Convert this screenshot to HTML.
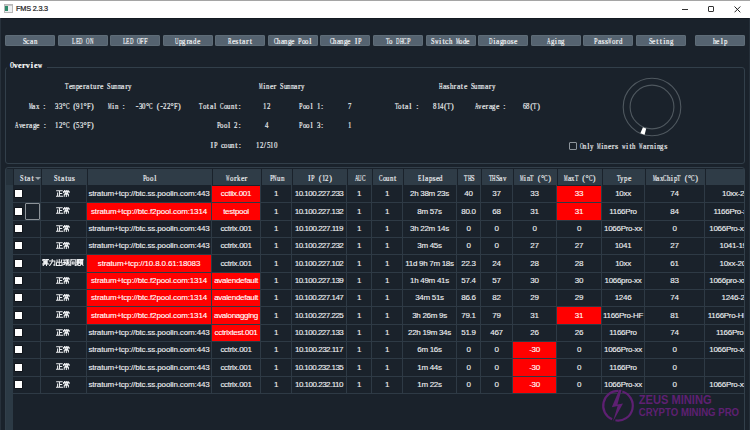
<!DOCTYPE html>
<html><head><meta charset="utf-8"><title>FMS 2.3.3</title>
<style>
*{margin:0;padding:0;box-sizing:border-box}
html,body{width:750px;height:430px;overflow:hidden;background:#1a222b;position:relative}
.a{position:absolute}
.m{-webkit-text-stroke:0.18px currentColor}.m i{font-style:normal;display:inline-flex;justify-content:center;width:3.52px}
.sf{position:absolute;font-family:"Liberation Serif",serif;font-size:8.0px;line-height:8px;color:#eceef0;white-space:nowrap}
.ss{font-family:"Liberation Sans",sans-serif;white-space:nowrap}
.btn{position:absolute;top:35px;height:11px;width:50px;background:#556370;border-radius:2px;box-shadow:inset 0 0 0 0.5px #68767f;
 font-family:"Liberation Serif",serif;font-size:8.0px;line-height:13px;text-align:center;color:#f4f5f6;white-space:nowrap}
.c{position:absolute;font-family:"Liberation Sans",sans-serif;font-size:8px;-webkit-text-stroke:0.12px currentColor;color:#eef0f2;text-align:center;white-space:nowrap;overflow:hidden}
.h{position:absolute;top:0;height:16px;background:#2f3c47;font-family:"Liberation Serif",serif;font-size:8.0px;line-height:19px;color:#eceef0;text-align:center;white-space:nowrap}
.r{background:#ff0000;color:#fff}
.cb{position:absolute;width:7px;height:7px;background:#fff;box-shadow:0 0 0 0.6px #0a0d10}
</style></head><body>

<div class="a" style="left:0;top:0;width:750px;height:18px;background:#fff;border-top:1px solid #a5a5a5"></div>
<div class="a" style="left:4px;top:4px;width:9px;height:8.5px;border:1px solid #b8b8b8;background:#eef0f2"></div>
<div class="a" style="left:5px;top:6px;width:3px;height:5px;background:#2e8a6a"></div>
<div class="a" style="left:5px;top:5px;width:7px;height:1px;background:#c8c8c8"></div>
<div class="a ss" style="left:16.1px;top:4.6px;font-size:7.3px;line-height:8px;color:#1a1a1a;letter-spacing:-0.2px;-webkit-text-stroke:0.2px #1a1a1a">FMS 2.3.3</div>
<div class="a" style="left:682px;top:9px;width:6px;height:1px;background:#333"></div>
<div class="a" style="left:707.5px;top:6px;width:6px;height:5.5px;border:1px solid #333;border-radius:1px"></div>
<svg class="a" style="left:734px;top:5.5px" width="7" height="7" viewBox="0 0 7 7"><path d="M0.5 0.5L6.3 6.3M6.3 0.5L0.5 6.3" stroke="#222" stroke-width="1"/></svg>
<div class="a" style="left:0;top:18px;width:750px;height:1px;background:#131a21"></div>
<div class="a" style="left:0;top:18px;width:1px;height:412px;background:#27313b"></div>
<div class="a" style="left:749px;top:18px;width:1px;height:412px;background:#252f39"></div>
<div class="btn m" style="left:5.00px"><i style="transform:scaleX(.80)">S</i><i style="transform:scaleX(.95)">c</i><i style="transform:scaleX(.95)">a</i><i style="transform:scaleX(.85)">n</i></div>
<div class="btn m" style="left:57.58px"><i style="transform:scaleX(.70)">L</i><i style="transform:scaleX(.70)">E</i><i style="transform:scaleX(.60)">D</i><i> </i><i style="transform:scaleX(.60)">O</i><i style="transform:scaleX(.60)">N</i></div>
<div class="btn m" style="left:110.16px"><i style="transform:scaleX(.70)">L</i><i style="transform:scaleX(.70)">E</i><i style="transform:scaleX(.60)">D</i><i> </i><i style="transform:scaleX(.60)">O</i><i style="transform:scaleX(.80)">F</i><i style="transform:scaleX(.80)">F</i></div>
<div class="btn m" style="left:162.74px"><i style="transform:scaleX(.60)">U</i><i style="transform:scaleX(.85)">p</i><i style="transform:scaleX(.85)">g</i><i>r</i><i style="transform:scaleX(.95)">a</i><i style="transform:scaleX(.85)">d</i><i style="transform:scaleX(.95)">e</i></div>
<div class="btn m" style="left:215.32px"><i style="transform:scaleX(.65)">R</i><i style="transform:scaleX(.95)">e</i><i>s</i><i>t</i><i style="transform:scaleX(.95)">a</i><i>r</i><i>t</i></div>
<div class="btn m" style="left:267.90px"><i style="transform:scaleX(.65)">C</i><i style="transform:scaleX(.85)">h</i><i style="transform:scaleX(.95)">a</i><i style="transform:scaleX(.85)">n</i><i style="transform:scaleX(.85)">g</i><i style="transform:scaleX(.95)">e</i><i> </i><i style="transform:scaleX(.80)">P</i><i style="transform:scaleX(.85)">o</i><i style="transform:scaleX(.85)">o</i><i>l</i></div>
<div class="btn m" style="left:320.48px"><i style="transform:scaleX(.65)">C</i><i style="transform:scaleX(.85)">h</i><i style="transform:scaleX(.95)">a</i><i style="transform:scaleX(.85)">n</i><i style="transform:scaleX(.85)">g</i><i style="transform:scaleX(.95)">e</i><i> </i><i>I</i><i style="transform:scaleX(.80)">P</i></div>
<div class="btn m" style="left:373.06px"><i style="transform:scaleX(.70)">T</i><i style="transform:scaleX(.85)">o</i><i> </i><i style="transform:scaleX(.60)">D</i><i style="transform:scaleX(.60)">H</i><i style="transform:scaleX(.65)">C</i><i style="transform:scaleX(.80)">P</i></div>
<div class="btn m" style="left:425.64px"><i style="transform:scaleX(.80)">S</i><i style="transform:scaleX(.60)">w</i><i>i</i><i>t</i><i style="transform:scaleX(.95)">c</i><i style="transform:scaleX(.85)">h</i><i> </i><i style="transform:scaleX(.50)">M</i><i style="transform:scaleX(.85)">o</i><i style="transform:scaleX(.85)">d</i><i style="transform:scaleX(.95)">e</i></div>
<div class="btn m" style="left:478.22px"><i style="transform:scaleX(.60)">D</i><i>i</i><i style="transform:scaleX(.95)">a</i><i style="transform:scaleX(.85)">g</i><i style="transform:scaleX(.85)">n</i><i style="transform:scaleX(.85)">o</i><i>s</i><i style="transform:scaleX(.95)">e</i></div>
<div class="btn m" style="left:530.80px"><i style="transform:scaleX(.60)">A</i><i style="transform:scaleX(.85)">g</i><i>i</i><i style="transform:scaleX(.85)">n</i><i style="transform:scaleX(.85)">g</i></div>
<div class="btn m" style="left:583.38px"><i style="transform:scaleX(.80)">P</i><i style="transform:scaleX(.95)">a</i><i>s</i><i>s</i><i style="transform:scaleX(.45)">W</i><i style="transform:scaleX(.85)">o</i><i>r</i><i style="transform:scaleX(.85)">d</i></div>
<div class="btn m" style="left:635.96px"><i style="transform:scaleX(.80)">S</i><i style="transform:scaleX(.95)">e</i><i>t</i><i>t</i><i>i</i><i style="transform:scaleX(.85)">n</i><i style="transform:scaleX(.85)">g</i></div>
<div class="btn m" style="left:695px"><i style="transform:scaleX(.85)">h</i><i style="transform:scaleX(.95)">e</i><i>l</i><i style="transform:scaleX(.85)">p</i></div>
<div class="a" style="left:5px;top:67px;width:740px;height:97px;border:1px solid #323f4a;border-radius:3px"></div>
<div class="a" style="left:7px;top:62px;width:40px;height:8px;background:#1a222b"></div>
<div class="sf m" style="left:9.6px;top:62.2px;font-weight:bold;color:#fff"><i style="width:4.05px;transform:scaleX(.65)">O</i><i style="width:4.05px;transform:scaleX(1.00)">v</i><i style="width:4.05px">e</i><i style="width:4.05px">r</i><i style="width:4.05px;transform:scaleX(1.00)">v</i><i style="width:4.05px">i</i><i style="width:4.05px">e</i><i style="width:4.05px;transform:scaleX(.70)">w</i></div>
<div class="sf m" style="left:65.0px;top:82.8px;"><i style="transform:scaleX(.70)">T</i><i style="transform:scaleX(.95)">e</i><i style="transform:scaleX(.55)">m</i><i style="transform:scaleX(.85)">p</i><i style="transform:scaleX(.95)">e</i><i>r</i><i style="transform:scaleX(.95)">a</i><i>t</i><i style="transform:scaleX(.85)">u</i><i>r</i><i style="transform:scaleX(.95)">e</i><i> </i><i style="transform:scaleX(.80)">S</i><i style="transform:scaleX(.85)">u</i><i style="transform:scaleX(.55)">m</i><i style="transform:scaleX(.55)">m</i><i style="transform:scaleX(.95)">a</i><i>r</i><i style="transform:scaleX(.85)">y</i></div>
<div class="sf m" style="left:28.5px;top:102.5px;"><i style="transform:scaleX(.50)">M</i><i style="transform:scaleX(.95)">a</i><i style="transform:scaleX(.85)">x</i><i> </i><i>:</i></div>
<div class="sf m" style="left:55.3px;top:102.5px;"><i style="transform:scaleX(.85)">3</i><i style="transform:scaleX(.85)">3</i><i>°</i><i style="transform:scaleX(.65)">C</i><i> </i><i>(</i><i style="transform:scaleX(.85)">9</i><i style="transform:scaleX(.85)">1</i><i>°</i><i style="transform:scaleX(.80)">F</i><i>)</i></div>
<div class="sf m" style="left:107.8px;top:102.5px;"><i style="transform:scaleX(.50)">M</i><i>i</i><i style="transform:scaleX(.85)">n</i><i> </i><i>:</i></div>
<div class="sf m" style="left:135.3px;top:102.5px;"><i>-</i><i style="transform:scaleX(.85)">3</i><i style="transform:scaleX(.85)">0</i><i>°</i><i style="transform:scaleX(.65)">C</i><i> </i><i>(</i><i>-</i><i style="transform:scaleX(.85)">2</i><i style="transform:scaleX(.85)">2</i><i>°</i><i style="transform:scaleX(.80)">F</i><i>)</i></div>
<div class="sf m" style="left:15.0px;top:122.4px;"><i style="transform:scaleX(.60)">A</i><i style="transform:scaleX(.85)">v</i><i style="transform:scaleX(.95)">e</i><i>r</i><i style="transform:scaleX(.95)">a</i><i style="transform:scaleX(.85)">g</i><i style="transform:scaleX(.95)">e</i><i> </i><i>:</i></div>
<div class="sf m" style="left:55.3px;top:122.4px;"><i style="transform:scaleX(.85)">1</i><i style="transform:scaleX(.85)">2</i><i>°</i><i style="transform:scaleX(.65)">C</i><i> </i><i>(</i><i style="transform:scaleX(.85)">5</i><i style="transform:scaleX(.85)">3</i><i>°</i><i style="transform:scaleX(.80)">F</i><i>)</i></div>
<div class="sf m" style="left:259.0px;top:82.8px;"><i style="transform:scaleX(.50)">M</i><i>i</i><i style="transform:scaleX(.85)">n</i><i style="transform:scaleX(.95)">e</i><i>r</i><i> </i><i style="transform:scaleX(.80)">S</i><i style="transform:scaleX(.85)">u</i><i style="transform:scaleX(.55)">m</i><i style="transform:scaleX(.55)">m</i><i style="transform:scaleX(.95)">a</i><i>r</i><i style="transform:scaleX(.85)">y</i></div>
<div class="sf m" style="left:199.2px;top:102.5px;"><i style="transform:scaleX(.70)">T</i><i style="transform:scaleX(.85)">o</i><i>t</i><i style="transform:scaleX(.95)">a</i><i>l</i><i> </i><i style="transform:scaleX(.65)">C</i><i style="transform:scaleX(.85)">o</i><i style="transform:scaleX(.85)">u</i><i style="transform:scaleX(.85)">n</i><i>t</i><i>:</i></div>
<div class="sf m" style="left:263.4px;top:102.5px;"><i style="transform:scaleX(.85)">1</i><i style="transform:scaleX(.85)">2</i></div>
<div class="sf m" style="left:299.2px;top:102.5px;"><i style="transform:scaleX(.80)">P</i><i style="transform:scaleX(.85)">o</i><i style="transform:scaleX(.85)">o</i><i>l</i><i> </i><i style="transform:scaleX(.85)">1</i><i>:</i></div>
<div class="sf m" style="left:347.5px;top:102.5px;"><i style="transform:scaleX(.85)">7</i></div>
<div class="sf m" style="left:216.7px;top:122.4px;"><i style="transform:scaleX(.80)">P</i><i style="transform:scaleX(.85)">o</i><i style="transform:scaleX(.85)">o</i><i>l</i><i> </i><i style="transform:scaleX(.85)">2</i><i>:</i></div>
<div class="sf m" style="left:264.8px;top:122.4px;"><i style="transform:scaleX(.85)">4</i></div>
<div class="sf m" style="left:299.2px;top:122.4px;"><i style="transform:scaleX(.80)">P</i><i style="transform:scaleX(.85)">o</i><i style="transform:scaleX(.85)">o</i><i>l</i><i> </i><i style="transform:scaleX(.85)">3</i><i>:</i></div>
<div class="sf m" style="left:347.5px;top:122.4px;"><i style="transform:scaleX(.85)">1</i></div>
<div class="sf m" style="left:210.0px;top:141.6px;"><i>I</i><i style="transform:scaleX(.80)">P</i><i> </i><i style="transform:scaleX(.95)">c</i><i style="transform:scaleX(.85)">o</i><i style="transform:scaleX(.85)">u</i><i style="transform:scaleX(.85)">n</i><i>t</i><i>:</i></div>
<div class="sf m" style="left:256.1px;top:141.6px;"><i style="transform:scaleX(.85)">1</i><i style="transform:scaleX(.85)">2</i><i>/</i><i style="transform:scaleX(.85)">5</i><i style="transform:scaleX(.85)">1</i><i style="transform:scaleX(.85)">0</i></div>
<div class="sf m" style="left:439.0px;top:82.8px;"><i style="transform:scaleX(.60)">H</i><i style="transform:scaleX(.95)">a</i><i>s</i><i style="transform:scaleX(.85)">h</i><i>r</i><i style="transform:scaleX(.95)">a</i><i>t</i><i style="transform:scaleX(.95)">e</i><i> </i><i style="transform:scaleX(.80)">S</i><i style="transform:scaleX(.85)">u</i><i style="transform:scaleX(.55)">m</i><i style="transform:scaleX(.55)">m</i><i style="transform:scaleX(.95)">a</i><i>r</i><i style="transform:scaleX(.85)">y</i></div>
<div class="sf m" style="left:394.6px;top:102.5px;"><i style="transform:scaleX(.70)">T</i><i style="transform:scaleX(.85)">o</i><i>t</i><i style="transform:scaleX(.95)">a</i><i>l</i><i> </i><i>:</i></div>
<div class="sf m" style="left:433.1px;top:102.5px;"><i style="transform:scaleX(.85)">8</i><i style="transform:scaleX(.85)">1</i><i style="transform:scaleX(.85)">4</i><i>(</i><i style="transform:scaleX(.70)">T</i><i>)</i></div>
<div class="sf m" style="left:474.5px;top:102.5px;"><i style="transform:scaleX(.60)">A</i><i style="transform:scaleX(.85)">v</i><i style="transform:scaleX(.95)">e</i><i>r</i><i style="transform:scaleX(.95)">a</i><i style="transform:scaleX(.85)">g</i><i style="transform:scaleX(.95)">e</i><i> </i><i>:</i></div>
<div class="sf m" style="left:522.8px;top:102.5px;"><i style="transform:scaleX(.85)">6</i><i style="transform:scaleX(.85)">8</i><i>(</i><i style="transform:scaleX(.70)">T</i><i>)</i></div>
<div class="a" style="left:569px;top:142.4px;width:8px;height:8px;border:1px solid #8d959c;border-radius:1px"></div>
<div class="sf m" style="left:579.6px;top:143.4px;"><i style="transform:scaleX(.60)">O</i><i style="transform:scaleX(.85)">n</i><i>l</i><i style="transform:scaleX(.85)">y</i><i> </i><i style="transform:scaleX(.50)">M</i><i>i</i><i style="transform:scaleX(.85)">n</i><i style="transform:scaleX(.95)">e</i><i>r</i><i>s</i><i> </i><i style="transform:scaleX(.60)">w</i><i>i</i><i>t</i><i style="transform:scaleX(.85)">h</i><i> </i><i style="transform:scaleX(.45)">W</i><i style="transform:scaleX(.95)">a</i><i>r</i><i style="transform:scaleX(.85)">n</i><i>i</i><i style="transform:scaleX(.85)">n</i><i style="transform:scaleX(.85)">g</i><i>s</i></div>
<svg class="a" style="left:620px;top:75px" width="64" height="64" viewBox="0 0 64 64">
<circle cx="32" cy="32" r="28.8" fill="none" stroke="#4f585f" stroke-width="1.1"/>
<circle cx="32" cy="32" r="21.9" fill="none" stroke="#4f585f" stroke-width="1.1"/>
<path d="M26.23 53.54L24.60 59.63A28.6 28.6 0 0 1 20.37 58.13L22.93 52.37A22.3 22.3 0 0 0 26.23 53.54Z" fill="#fff"/>
</svg>
<div class="a" style="left:4.5px;top:167px;width:740.5px;height:270px;border:1px solid #323f4a;border-radius:3px"></div>
<div class="a" style="left:5.5px;top:169px;width:7.5px;height:262px;background:#2c3a45"></div>
<div class="a" style="left:5.5px;top:169px;width:7.5px;height:16px;background:#26323c"></div>
<div class="a" style="left:13px;top:169px;width:730.5px;height:16px;overflow:hidden">
<div class="h m" style="left:1.0px;width:27.0px;text-align:left;padding-left:6.3px"><i style="transform:scaleX(.80)">S</i><i>t</i><i style="transform:scaleX(.95)">a</i><i>t</i><span style="display:inline-block;margin-left:1px;width:0;height:0;border-left:3px solid transparent;border-right:3px solid transparent;border-top:3px solid #9aa3aa;vertical-align:1.5px"></span></div>
<div class="h m" style="left:29.0px;width:45.0px"><i style="transform:scaleX(.80)">S</i><i>t</i><i style="transform:scaleX(.95)">a</i><i>t</i><i style="transform:scaleX(.85)">u</i><i>s</i></div>
<div class="h m" style="left:75.0px;width:124.0px"><i style="transform:scaleX(.80)">P</i><i style="transform:scaleX(.85)">o</i><i style="transform:scaleX(.85)">o</i><i>l</i></div>
<div class="h m" style="left:200.0px;width:48.0px"><i style="transform:scaleX(.45)">W</i><i style="transform:scaleX(.85)">o</i><i>r</i><i style="transform:scaleX(.85)">k</i><i style="transform:scaleX(.95)">e</i><i>r</i></div>
<div class="h m" style="left:249.0px;width:30.0px"><i style="transform:scaleX(.80)">P</i><i style="transform:scaleX(.60)">N</i><i style="transform:scaleX(.85)">u</i><i style="transform:scaleX(.55)">m</i></div>
<div class="h m" style="left:280.0px;width:54.0px"><i>I</i><i style="transform:scaleX(.80)">P</i><i> </i><i>(</i><i style="transform:scaleX(.85)">1</i><i style="transform:scaleX(.85)">2</i><i>)</i></div>
<div class="h m" style="left:335.0px;width:24.0px"><i style="transform:scaleX(.60)">A</i><i style="transform:scaleX(.60)">U</i><i style="transform:scaleX(.65)">C</i></div>
<div class="h m" style="left:360.0px;width:30.0px"><i style="transform:scaleX(.65)">C</i><i style="transform:scaleX(.85)">o</i><i style="transform:scaleX(.85)">u</i><i style="transform:scaleX(.85)">n</i><i>t</i></div>
<div class="h m" style="left:391.0px;width:53.0px"><i style="transform:scaleX(.70)">E</i><i>l</i><i style="transform:scaleX(.95)">a</i><i style="transform:scaleX(.85)">p</i><i>s</i><i style="transform:scaleX(.95)">e</i><i style="transform:scaleX(.85)">d</i></div>
<div class="h m" style="left:445.0px;width:23.0px"><i style="transform:scaleX(.70)">T</i><i style="transform:scaleX(.60)">H</i><i style="transform:scaleX(.80)">S</i></div>
<div class="h m" style="left:469.0px;width:31.0px"><i style="transform:scaleX(.70)">T</i><i style="transform:scaleX(.60)">H</i><i style="transform:scaleX(.80)">S</i><i style="transform:scaleX(.95)">a</i><i style="transform:scaleX(.85)">v</i></div>
<div class="h m" style="left:501.0px;width:43.0px"><i style="transform:scaleX(.50)">M</i><i>i</i><i style="transform:scaleX(.85)">n</i><i style="transform:scaleX(.70)">T</i><i> </i><i>(</i><i>°</i><i style="transform:scaleX(.65)">C</i><i>)</i></div>
<div class="h m" style="left:545.0px;width:44.0px"><i style="transform:scaleX(.50)">M</i><i style="transform:scaleX(.95)">a</i><i style="transform:scaleX(.85)">x</i><i style="transform:scaleX(.70)">T</i><i> </i><i>(</i><i>°</i><i style="transform:scaleX(.65)">C</i><i>)</i></div>
<div class="h m" style="left:590.0px;width:42.0px"><i style="transform:scaleX(.70)">T</i><i style="transform:scaleX(.85)">y</i><i style="transform:scaleX(.85)">p</i><i style="transform:scaleX(.95)">e</i></div>
<div class="h m" style="left:633.0px;width:59.0px"><i style="transform:scaleX(.50)">M</i><i style="transform:scaleX(.95)">a</i><i style="transform:scaleX(.85)">x</i><i style="transform:scaleX(.65)">C</i><i style="transform:scaleX(.85)">h</i><i>i</i><i style="transform:scaleX(.85)">p</i><i style="transform:scaleX(.70)">T</i><i> </i><i>(</i><i>°</i><i style="transform:scaleX(.65)">C</i><i>)</i></div>
<div class="h m" style="left:693.0px;width:85.0px"></div>
</div>
<div class="a" style="left:13px;top:185px;width:731px;height:245px;overflow:hidden">
<div class="c" style="left:28px;top:1px;width:45px;height:16px;line-height:16px;letter-spacing:-0.30px"><svg width="13.80" height="6.90" viewBox="0 0 20.00 10" style="display:block;margin:4.30px auto 0;position:relative;left:-0.60px"><g fill="none" stroke="#eef0f2" stroke-width="1.50" stroke-linecap="square"><path transform="translate(0.00 0)" d="M1 1.2H9M5 1.2V9.2M5 5H8.3M2.3 4.3V9.2M0.4 9.2H9.6"/><path transform="translate(10.00 0)" d="M5 0V1.8M2.4 0.5L3.2 1.6M7.6 0.5L6.8 1.6M1 3.6V2.2H9V3.6M3.2 3.4H6.8V5H3.2ZM2 9V6.2H8V8.8M5 5V10"/></g></svg></div>
<div class="c" style="left:74px;top:1px;width:124px;height:16px;line-height:16px;letter-spacing:-0.14px">stratum+tcp://btc.ss.poolin.com:443</div>
<div class="c r" style="left:199px;top:1px;width:48px;height:16px;line-height:16px;letter-spacing:-0.30px">cctiix.001</div>
<div class="c" style="left:248px;top:1px;width:30px;height:16px;line-height:16px;letter-spacing:-0.30px">1</div>
<div class="c" style="left:279px;top:1px;width:54px;height:16px;line-height:16px;letter-spacing:-0.50px">10.100.227.233</div>
<div class="c" style="left:334px;top:1px;width:24px;height:16px;line-height:16px;letter-spacing:-0.30px">1</div>
<div class="c" style="left:359px;top:1px;width:30px;height:16px;line-height:16px;letter-spacing:-0.30px">1</div>
<div class="c" style="left:390px;top:1px;width:53px;height:16px;line-height:16px;letter-spacing:-0.30px">2h 38m 23s</div>
<div class="c" style="left:444px;top:1px;width:23px;height:16px;line-height:16px;letter-spacing:-0.30px">40</div>
<div class="c" style="left:468px;top:1px;width:31px;height:16px;line-height:16px;letter-spacing:-0.30px">37</div>
<div class="c" style="left:500px;top:1px;width:43px;height:16px;line-height:16px;letter-spacing:-0.30px">33</div>
<div class="c r" style="left:544px;top:1px;width:44px;height:16px;line-height:16px;letter-spacing:-0.30px">33</div>
<div class="c" style="left:589px;top:1px;width:42px;height:16px;line-height:16px;letter-spacing:-0.30px">10xx</div>
<div class="c" style="left:632px;top:1px;width:59px;height:16px;line-height:16px;letter-spacing:-0.30px">74</div>
<div class="c" style="left:692px;top:1px;width:85px;height:16px;line-height:16px;letter-spacing:-0.30px"><span style="position:absolute;left:17.0px">10xx-20xx</span></div>
<div class="a" style="left:0;top:17px;width:731px;height:1px;background:#2e3a45"></div>
<div class="c" style="left:28px;top:18px;width:45px;height:17px;line-height:17px;letter-spacing:-0.30px"><svg width="13.80" height="6.90" viewBox="0 0 20.00 10" style="display:block;margin:4.30px auto 0;position:relative;left:-0.60px"><g fill="none" stroke="#eef0f2" stroke-width="1.50" stroke-linecap="square"><path transform="translate(0.00 0)" d="M1 1.2H9M5 1.2V9.2M5 5H8.3M2.3 4.3V9.2M0.4 9.2H9.6"/><path transform="translate(10.00 0)" d="M5 0V1.8M2.4 0.5L3.2 1.6M7.6 0.5L6.8 1.6M1 3.6V2.2H9V3.6M3.2 3.4H6.8V5H3.2ZM2 9V6.2H8V8.8M5 5V10"/></g></svg></div>
<div class="c r" style="left:74px;top:18px;width:124px;height:17px;line-height:17px;letter-spacing:-0.14px">stratum+tcp://btc.f2pool.com:1314</div>
<div class="c r" style="left:199px;top:18px;width:48px;height:17px;line-height:17px;letter-spacing:-0.30px">testpool</div>
<div class="c" style="left:248px;top:18px;width:30px;height:17px;line-height:17px;letter-spacing:-0.30px">1</div>
<div class="c" style="left:279px;top:18px;width:54px;height:17px;line-height:17px;letter-spacing:-0.50px">10.100.227.132</div>
<div class="c" style="left:334px;top:18px;width:24px;height:17px;line-height:17px;letter-spacing:-0.30px">1</div>
<div class="c" style="left:359px;top:18px;width:30px;height:17px;line-height:17px;letter-spacing:-0.30px">1</div>
<div class="c" style="left:390px;top:18px;width:53px;height:17px;line-height:17px;letter-spacing:-0.30px">8m 57s</div>
<div class="c" style="left:444px;top:18px;width:23px;height:17px;line-height:17px;letter-spacing:-0.30px">80.0</div>
<div class="c" style="left:468px;top:18px;width:31px;height:17px;line-height:17px;letter-spacing:-0.30px">68</div>
<div class="c" style="left:500px;top:18px;width:43px;height:17px;line-height:17px;letter-spacing:-0.30px">31</div>
<div class="c r" style="left:544px;top:18px;width:44px;height:17px;line-height:17px;letter-spacing:-0.30px">31</div>
<div class="c" style="left:589px;top:18px;width:42px;height:17px;line-height:17px;letter-spacing:-0.30px">1166Pro</div>
<div class="c" style="left:632px;top:18px;width:59px;height:17px;line-height:17px;letter-spacing:-0.30px">84</div>
<div class="c" style="left:692px;top:18px;width:85px;height:17px;line-height:17px;letter-spacing:-0.30px"><span style="position:absolute;left:8.4px">1166Pro-xx</span></div>
<div class="a" style="left:0;top:35px;width:731px;height:1px;background:#2e3a45"></div>
<div class="c" style="left:28px;top:36px;width:45px;height:16px;line-height:16px;letter-spacing:-0.30px"><svg width="13.80" height="6.90" viewBox="0 0 20.00 10" style="display:block;margin:4.30px auto 0;position:relative;left:-0.60px"><g fill="none" stroke="#eef0f2" stroke-width="1.50" stroke-linecap="square"><path transform="translate(0.00 0)" d="M1 1.2H9M5 1.2V9.2M5 5H8.3M2.3 4.3V9.2M0.4 9.2H9.6"/><path transform="translate(10.00 0)" d="M5 0V1.8M2.4 0.5L3.2 1.6M7.6 0.5L6.8 1.6M1 3.6V2.2H9V3.6M3.2 3.4H6.8V5H3.2ZM2 9V6.2H8V8.8M5 5V10"/></g></svg></div>
<div class="c" style="left:74px;top:36px;width:124px;height:16px;line-height:16px;letter-spacing:-0.14px">stratum+tcp://btc.ss.poolin.com:443</div>
<div class="c" style="left:199px;top:36px;width:48px;height:16px;line-height:16px;letter-spacing:-0.30px">cctrix.001</div>
<div class="c" style="left:248px;top:36px;width:30px;height:16px;line-height:16px;letter-spacing:-0.30px">1</div>
<div class="c" style="left:279px;top:36px;width:54px;height:16px;line-height:16px;letter-spacing:-0.50px">10.100.227.119</div>
<div class="c" style="left:334px;top:36px;width:24px;height:16px;line-height:16px;letter-spacing:-0.30px">1</div>
<div class="c" style="left:359px;top:36px;width:30px;height:16px;line-height:16px;letter-spacing:-0.30px">1</div>
<div class="c" style="left:390px;top:36px;width:53px;height:16px;line-height:16px;letter-spacing:-0.30px">3h 22m 14s</div>
<div class="c" style="left:444px;top:36px;width:23px;height:16px;line-height:16px;letter-spacing:-0.30px">0</div>
<div class="c" style="left:468px;top:36px;width:31px;height:16px;line-height:16px;letter-spacing:-0.30px">0</div>
<div class="c" style="left:500px;top:36px;width:43px;height:16px;line-height:16px;letter-spacing:-0.30px">0</div>
<div class="c" style="left:544px;top:36px;width:44px;height:16px;line-height:16px;letter-spacing:-0.30px">0</div>
<div class="c" style="left:589px;top:36px;width:42px;height:16px;line-height:16px;letter-spacing:-0.30px">1066Pro-xx</div>
<div class="c" style="left:632px;top:36px;width:59px;height:16px;line-height:16px;letter-spacing:-0.30px">0</div>
<div class="c" style="left:692px;top:36px;width:85px;height:16px;line-height:16px;letter-spacing:-0.30px"><span style="position:absolute;left:4.3px">1066Pro-xx</span></div>
<div class="a" style="left:0;top:52px;width:731px;height:1px;background:#2e3a45"></div>
<div class="c" style="left:28px;top:53px;width:45px;height:16px;line-height:16px;letter-spacing:-0.30px"><svg width="13.80" height="6.90" viewBox="0 0 20.00 10" style="display:block;margin:4.30px auto 0;position:relative;left:-0.60px"><g fill="none" stroke="#eef0f2" stroke-width="1.50" stroke-linecap="square"><path transform="translate(0.00 0)" d="M1 1.2H9M5 1.2V9.2M5 5H8.3M2.3 4.3V9.2M0.4 9.2H9.6"/><path transform="translate(10.00 0)" d="M5 0V1.8M2.4 0.5L3.2 1.6M7.6 0.5L6.8 1.6M1 3.6V2.2H9V3.6M3.2 3.4H6.8V5H3.2ZM2 9V6.2H8V8.8M5 5V10"/></g></svg></div>
<div class="c" style="left:74px;top:53px;width:124px;height:16px;line-height:16px;letter-spacing:-0.14px">stratum+tcp://btc.ss.poolin.com:443</div>
<div class="c" style="left:199px;top:53px;width:48px;height:16px;line-height:16px;letter-spacing:-0.30px">cctrix.001</div>
<div class="c" style="left:248px;top:53px;width:30px;height:16px;line-height:16px;letter-spacing:-0.30px">1</div>
<div class="c" style="left:279px;top:53px;width:54px;height:16px;line-height:16px;letter-spacing:-0.50px">10.100.227.232</div>
<div class="c" style="left:334px;top:53px;width:24px;height:16px;line-height:16px;letter-spacing:-0.30px">1</div>
<div class="c" style="left:359px;top:53px;width:30px;height:16px;line-height:16px;letter-spacing:-0.30px">1</div>
<div class="c" style="left:390px;top:53px;width:53px;height:16px;line-height:16px;letter-spacing:-0.30px">3m 45s</div>
<div class="c" style="left:444px;top:53px;width:23px;height:16px;line-height:16px;letter-spacing:-0.30px">0</div>
<div class="c" style="left:468px;top:53px;width:31px;height:16px;line-height:16px;letter-spacing:-0.30px">0</div>
<div class="c" style="left:500px;top:53px;width:43px;height:16px;line-height:16px;letter-spacing:-0.30px">27</div>
<div class="c" style="left:544px;top:53px;width:44px;height:16px;line-height:16px;letter-spacing:-0.30px">27</div>
<div class="c" style="left:589px;top:53px;width:42px;height:16px;line-height:16px;letter-spacing:-0.30px">1041</div>
<div class="c" style="left:632px;top:53px;width:59px;height:16px;line-height:16px;letter-spacing:-0.30px">27</div>
<div class="c" style="left:692px;top:53px;width:85px;height:16px;line-height:16px;letter-spacing:-0.30px"><span style="position:absolute;left:14.5px">1041-19xx</span></div>
<div class="a" style="left:0;top:69px;width:731px;height:1px;background:#2e3a45"></div>
<div class="c" style="left:28px;top:70px;width:45px;height:17px;line-height:17px;letter-spacing:-0.30px"><svg width="41.40" height="6.90" viewBox="0 0 60.00 10" style="display:block;margin:4.30px auto 0;position:relative;left:-0.60px"><g fill="none" stroke="#eef0f2" stroke-width="1.50" stroke-linecap="square"><path transform="translate(0.00 0)" d="M1.6 0L0.8 1.8M1.5 0.9H4.3M2.6 0.9V2M6.4 0L5.6 1.8M6.3 0.9H9.3M7.4 0.9V2M2.5 2.8H7.5V6.2H2.5ZM2.5 4H7.5M2.5 5.1H7.5M0.4 7.2H9.6M3.5 6.2V7.4L1.5 9.8M6.5 6.2V9.9"/><path transform="translate(10.00 0)" d="M1 3H8.6V9.2L7 8.7M4.8 0.3V4L1 9.6"/><path transform="translate(20.00 0)" d="M5 0.3V9.6M1.8 1.5V4.6H8.2V1.5M1 5.6V9.4H9V5.6"/><path transform="translate(30.00 0)" d="M0.5 1.5H4M0.8 5H3.8M2.2 1.5V8M0.3 8.6L4.2 7M5 1H9V6.2M5 1V6.2M7 2.5V5.2L5 9.6M7.6 5.6V9H9.7V8"/><path transform="translate(40.00 0)" d="M1.8 0.3L3 1.5M1.6 2.4V9.8M3.6 1.2H9V9.4L8 9.1M3.8 4.4H6.6V7.4H3.8Z"/><path transform="translate(50.00 0)" d="M1 0.8H4V3.6H1ZM1 2.2H4M0.4 4.6H4.6M2.5 4.6V7.6M2.5 6H4.2M1.3 5.6L0.4 9M1 8Q2.2 9.6 5.2 9.6M5.2 0.9H9.6M7.4 0.9L6.9 2.3M5.9 2.3H9V7.2H5.9ZM5.9 4H9M5.9 5.6H9M6.8 7.2L5.6 9.2M8 7.2L9.6 9.2"/></g></svg></div>
<div class="c r" style="left:74px;top:70px;width:124px;height:17px;line-height:17px;letter-spacing:-0.14px">stratum+tcp://10.8.0.61:18083</div>
<div class="c" style="left:199px;top:70px;width:48px;height:17px;line-height:17px;letter-spacing:-0.30px">cctrix.001</div>
<div class="c" style="left:248px;top:70px;width:30px;height:17px;line-height:17px;letter-spacing:-0.30px">1</div>
<div class="c" style="left:279px;top:70px;width:54px;height:17px;line-height:17px;letter-spacing:-0.50px">10.100.227.102</div>
<div class="c" style="left:334px;top:70px;width:24px;height:17px;line-height:17px;letter-spacing:-0.30px">1</div>
<div class="c" style="left:359px;top:70px;width:30px;height:17px;line-height:17px;letter-spacing:-0.30px">1</div>
<div class="c" style="left:390px;top:70px;width:53px;height:17px;line-height:17px;letter-spacing:-0.30px">11d 9h 7m 18s</div>
<div class="c" style="left:444px;top:70px;width:23px;height:17px;line-height:17px;letter-spacing:-0.30px">22.3</div>
<div class="c" style="left:468px;top:70px;width:31px;height:17px;line-height:17px;letter-spacing:-0.30px">24</div>
<div class="c" style="left:500px;top:70px;width:43px;height:17px;line-height:17px;letter-spacing:-0.30px">28</div>
<div class="c" style="left:544px;top:70px;width:44px;height:17px;line-height:17px;letter-spacing:-0.30px">28</div>
<div class="c" style="left:589px;top:70px;width:42px;height:17px;line-height:17px;letter-spacing:-0.30px">10xx</div>
<div class="c" style="left:632px;top:70px;width:59px;height:17px;line-height:17px;letter-spacing:-0.30px">61</div>
<div class="c" style="left:692px;top:70px;width:85px;height:17px;line-height:17px;letter-spacing:-0.30px"><span style="position:absolute;left:14.5px">10xx-20xx</span></div>
<div class="a" style="left:0;top:87px;width:731px;height:1px;background:#2e3a45"></div>
<div class="c" style="left:28px;top:88px;width:45px;height:16px;line-height:16px;letter-spacing:-0.30px"><svg width="13.80" height="6.90" viewBox="0 0 20.00 10" style="display:block;margin:4.30px auto 0;position:relative;left:-0.60px"><g fill="none" stroke="#eef0f2" stroke-width="1.50" stroke-linecap="square"><path transform="translate(0.00 0)" d="M1 1.2H9M5 1.2V9.2M5 5H8.3M2.3 4.3V9.2M0.4 9.2H9.6"/><path transform="translate(10.00 0)" d="M5 0V1.8M2.4 0.5L3.2 1.6M7.6 0.5L6.8 1.6M1 3.6V2.2H9V3.6M3.2 3.4H6.8V5H3.2ZM2 9V6.2H8V8.8M5 5V10"/></g></svg></div>
<div class="c r" style="left:74px;top:88px;width:124px;height:16px;line-height:16px;letter-spacing:-0.14px">stratum+tcp://btc.f2pool.com:1314</div>
<div class="c r" style="left:199px;top:88px;width:48px;height:16px;line-height:16px;letter-spacing:-0.30px">avalendefault</div>
<div class="c" style="left:248px;top:88px;width:30px;height:16px;line-height:16px;letter-spacing:-0.30px">1</div>
<div class="c" style="left:279px;top:88px;width:54px;height:16px;line-height:16px;letter-spacing:-0.50px">10.100.227.139</div>
<div class="c" style="left:334px;top:88px;width:24px;height:16px;line-height:16px;letter-spacing:-0.30px">1</div>
<div class="c" style="left:359px;top:88px;width:30px;height:16px;line-height:16px;letter-spacing:-0.30px">1</div>
<div class="c" style="left:390px;top:88px;width:53px;height:16px;line-height:16px;letter-spacing:-0.30px">1h 49m 41s</div>
<div class="c" style="left:444px;top:88px;width:23px;height:16px;line-height:16px;letter-spacing:-0.30px">57.4</div>
<div class="c" style="left:468px;top:88px;width:31px;height:16px;line-height:16px;letter-spacing:-0.30px">57</div>
<div class="c" style="left:500px;top:88px;width:43px;height:16px;line-height:16px;letter-spacing:-0.30px">30</div>
<div class="c" style="left:544px;top:88px;width:44px;height:16px;line-height:16px;letter-spacing:-0.30px">30</div>
<div class="c" style="left:589px;top:88px;width:42px;height:16px;line-height:16px;letter-spacing:-0.30px">1066pro-xx</div>
<div class="c" style="left:632px;top:88px;width:59px;height:16px;line-height:16px;letter-spacing:-0.30px">83</div>
<div class="c" style="left:692px;top:88px;width:85px;height:16px;line-height:16px;letter-spacing:-0.30px"><span style="position:absolute;left:4.3px">1066pro-xx</span></div>
<div class="a" style="left:0;top:104px;width:731px;height:1px;background:#2e3a45"></div>
<div class="c" style="left:28px;top:105px;width:45px;height:16px;line-height:16px;letter-spacing:-0.30px"><svg width="13.80" height="6.90" viewBox="0 0 20.00 10" style="display:block;margin:4.30px auto 0;position:relative;left:-0.60px"><g fill="none" stroke="#eef0f2" stroke-width="1.50" stroke-linecap="square"><path transform="translate(0.00 0)" d="M1 1.2H9M5 1.2V9.2M5 5H8.3M2.3 4.3V9.2M0.4 9.2H9.6"/><path transform="translate(10.00 0)" d="M5 0V1.8M2.4 0.5L3.2 1.6M7.6 0.5L6.8 1.6M1 3.6V2.2H9V3.6M3.2 3.4H6.8V5H3.2ZM2 9V6.2H8V8.8M5 5V10"/></g></svg></div>
<div class="c r" style="left:74px;top:105px;width:124px;height:16px;line-height:16px;letter-spacing:-0.14px">stratum+tcp://btc.f2pool.com:1314</div>
<div class="c r" style="left:199px;top:105px;width:48px;height:16px;line-height:16px;letter-spacing:-0.30px">avalendefault</div>
<div class="c" style="left:248px;top:105px;width:30px;height:16px;line-height:16px;letter-spacing:-0.30px">1</div>
<div class="c" style="left:279px;top:105px;width:54px;height:16px;line-height:16px;letter-spacing:-0.50px">10.100.227.147</div>
<div class="c" style="left:334px;top:105px;width:24px;height:16px;line-height:16px;letter-spacing:-0.30px">1</div>
<div class="c" style="left:359px;top:105px;width:30px;height:16px;line-height:16px;letter-spacing:-0.30px">1</div>
<div class="c" style="left:390px;top:105px;width:53px;height:16px;line-height:16px;letter-spacing:-0.30px">34m 51s</div>
<div class="c" style="left:444px;top:105px;width:23px;height:16px;line-height:16px;letter-spacing:-0.30px">86.6</div>
<div class="c" style="left:468px;top:105px;width:31px;height:16px;line-height:16px;letter-spacing:-0.30px">82</div>
<div class="c" style="left:500px;top:105px;width:43px;height:16px;line-height:16px;letter-spacing:-0.30px">29</div>
<div class="c" style="left:544px;top:105px;width:44px;height:16px;line-height:16px;letter-spacing:-0.30px">29</div>
<div class="c" style="left:589px;top:105px;width:42px;height:16px;line-height:16px;letter-spacing:-0.30px">1246</div>
<div class="c" style="left:632px;top:105px;width:59px;height:16px;line-height:16px;letter-spacing:-0.30px">74</div>
<div class="c" style="left:692px;top:105px;width:85px;height:16px;line-height:16px;letter-spacing:-0.30px"><span style="position:absolute;left:16.5px">1246-20xx</span></div>
<div class="a" style="left:0;top:121px;width:731px;height:1px;background:#2e3a45"></div>
<div class="c" style="left:28px;top:122px;width:45px;height:17px;line-height:17px;letter-spacing:-0.30px"><svg width="13.80" height="6.90" viewBox="0 0 20.00 10" style="display:block;margin:4.30px auto 0;position:relative;left:-0.60px"><g fill="none" stroke="#eef0f2" stroke-width="1.50" stroke-linecap="square"><path transform="translate(0.00 0)" d="M1 1.2H9M5 1.2V9.2M5 5H8.3M2.3 4.3V9.2M0.4 9.2H9.6"/><path transform="translate(10.00 0)" d="M5 0V1.8M2.4 0.5L3.2 1.6M7.6 0.5L6.8 1.6M1 3.6V2.2H9V3.6M3.2 3.4H6.8V5H3.2ZM2 9V6.2H8V8.8M5 5V10"/></g></svg></div>
<div class="c r" style="left:74px;top:122px;width:124px;height:17px;line-height:17px;letter-spacing:-0.14px">stratum+tcp://btc.f2pool.com:1314</div>
<div class="c r" style="left:199px;top:122px;width:48px;height:17px;line-height:17px;letter-spacing:-0.30px">avalonagging</div>
<div class="c" style="left:248px;top:122px;width:30px;height:17px;line-height:17px;letter-spacing:-0.30px">1</div>
<div class="c" style="left:279px;top:122px;width:54px;height:17px;line-height:17px;letter-spacing:-0.50px">10.100.227.225</div>
<div class="c" style="left:334px;top:122px;width:24px;height:17px;line-height:17px;letter-spacing:-0.30px">1</div>
<div class="c" style="left:359px;top:122px;width:30px;height:17px;line-height:17px;letter-spacing:-0.30px">1</div>
<div class="c" style="left:390px;top:122px;width:53px;height:17px;line-height:17px;letter-spacing:-0.30px">3h 26m 9s</div>
<div class="c" style="left:444px;top:122px;width:23px;height:17px;line-height:17px;letter-spacing:-0.30px">79.1</div>
<div class="c" style="left:468px;top:122px;width:31px;height:17px;line-height:17px;letter-spacing:-0.30px">79</div>
<div class="c" style="left:500px;top:122px;width:43px;height:17px;line-height:17px;letter-spacing:-0.30px">31</div>
<div class="c r" style="left:544px;top:122px;width:44px;height:17px;line-height:17px;letter-spacing:-0.30px">31</div>
<div class="c" style="left:589px;top:122px;width:42px;height:17px;line-height:17px;letter-spacing:-0.30px">1166Pro-HF</div>
<div class="c" style="left:632px;top:122px;width:59px;height:17px;line-height:17px;letter-spacing:-0.30px">81</div>
<div class="c" style="left:692px;top:122px;width:85px;height:17px;line-height:17px;letter-spacing:-0.30px"><span style="position:absolute;left:2.8px">1166Pro-HF</span></div>
<div class="a" style="left:0;top:139px;width:731px;height:1px;background:#2e3a45"></div>
<div class="c" style="left:28px;top:140px;width:45px;height:16px;line-height:16px;letter-spacing:-0.30px"><svg width="13.80" height="6.90" viewBox="0 0 20.00 10" style="display:block;margin:4.30px auto 0;position:relative;left:-0.60px"><g fill="none" stroke="#eef0f2" stroke-width="1.50" stroke-linecap="square"><path transform="translate(0.00 0)" d="M1 1.2H9M5 1.2V9.2M5 5H8.3M2.3 4.3V9.2M0.4 9.2H9.6"/><path transform="translate(10.00 0)" d="M5 0V1.8M2.4 0.5L3.2 1.6M7.6 0.5L6.8 1.6M1 3.6V2.2H9V3.6M3.2 3.4H6.8V5H3.2ZM2 9V6.2H8V8.8M5 5V10"/></g></svg></div>
<div class="c" style="left:74px;top:140px;width:124px;height:16px;line-height:16px;letter-spacing:-0.14px">stratum+tcp://btc.ss.poolin.com:443</div>
<div class="c r" style="left:199px;top:140px;width:48px;height:16px;line-height:16px;letter-spacing:-0.30px">cctrixtest.001</div>
<div class="c" style="left:248px;top:140px;width:30px;height:16px;line-height:16px;letter-spacing:-0.30px">1</div>
<div class="c" style="left:279px;top:140px;width:54px;height:16px;line-height:16px;letter-spacing:-0.50px">10.100.227.133</div>
<div class="c" style="left:334px;top:140px;width:24px;height:16px;line-height:16px;letter-spacing:-0.30px">1</div>
<div class="c" style="left:359px;top:140px;width:30px;height:16px;line-height:16px;letter-spacing:-0.30px">1</div>
<div class="c" style="left:390px;top:140px;width:53px;height:16px;line-height:16px;letter-spacing:-0.30px">22h 19m 34s</div>
<div class="c" style="left:444px;top:140px;width:23px;height:16px;line-height:16px;letter-spacing:-0.30px">51.9</div>
<div class="c" style="left:468px;top:140px;width:31px;height:16px;line-height:16px;letter-spacing:-0.30px">467</div>
<div class="c" style="left:500px;top:140px;width:43px;height:16px;line-height:16px;letter-spacing:-0.30px">26</div>
<div class="c" style="left:544px;top:140px;width:44px;height:16px;line-height:16px;letter-spacing:-0.30px">26</div>
<div class="c" style="left:589px;top:140px;width:42px;height:16px;line-height:16px;letter-spacing:-0.30px">1166Pro</div>
<div class="c" style="left:632px;top:140px;width:59px;height:16px;line-height:16px;letter-spacing:-0.30px">74</div>
<div class="c" style="left:692px;top:140px;width:85px;height:16px;line-height:16px;letter-spacing:-0.30px"><span style="position:absolute;left:10.9px">1166Pro</span></div>
<div class="a" style="left:0;top:156px;width:731px;height:1px;background:#2e3a45"></div>
<div class="c" style="left:28px;top:157px;width:45px;height:16px;line-height:16px;letter-spacing:-0.30px"><svg width="13.80" height="6.90" viewBox="0 0 20.00 10" style="display:block;margin:4.30px auto 0;position:relative;left:-0.60px"><g fill="none" stroke="#eef0f2" stroke-width="1.50" stroke-linecap="square"><path transform="translate(0.00 0)" d="M1 1.2H9M5 1.2V9.2M5 5H8.3M2.3 4.3V9.2M0.4 9.2H9.6"/><path transform="translate(10.00 0)" d="M5 0V1.8M2.4 0.5L3.2 1.6M7.6 0.5L6.8 1.6M1 3.6V2.2H9V3.6M3.2 3.4H6.8V5H3.2ZM2 9V6.2H8V8.8M5 5V10"/></g></svg></div>
<div class="c" style="left:74px;top:157px;width:124px;height:16px;line-height:16px;letter-spacing:-0.14px">stratum+tcp://btc.ss.poolin.com:443</div>
<div class="c" style="left:199px;top:157px;width:48px;height:16px;line-height:16px;letter-spacing:-0.30px">cctrix.001</div>
<div class="c" style="left:248px;top:157px;width:30px;height:16px;line-height:16px;letter-spacing:-0.30px">1</div>
<div class="c" style="left:279px;top:157px;width:54px;height:16px;line-height:16px;letter-spacing:-0.50px">10.100.232.117</div>
<div class="c" style="left:334px;top:157px;width:24px;height:16px;line-height:16px;letter-spacing:-0.30px">1</div>
<div class="c" style="left:359px;top:157px;width:30px;height:16px;line-height:16px;letter-spacing:-0.30px">1</div>
<div class="c" style="left:390px;top:157px;width:53px;height:16px;line-height:16px;letter-spacing:-0.30px">6m 16s</div>
<div class="c" style="left:444px;top:157px;width:23px;height:16px;line-height:16px;letter-spacing:-0.30px">0</div>
<div class="c" style="left:468px;top:157px;width:31px;height:16px;line-height:16px;letter-spacing:-0.30px">0</div>
<div class="c r" style="left:500px;top:157px;width:43px;height:16px;line-height:16px;letter-spacing:-0.30px">-30</div>
<div class="c" style="left:544px;top:157px;width:44px;height:16px;line-height:16px;letter-spacing:-0.30px">0</div>
<div class="c" style="left:589px;top:157px;width:42px;height:16px;line-height:16px;letter-spacing:-0.30px">1066Pro-xx</div>
<div class="c" style="left:632px;top:157px;width:59px;height:16px;line-height:16px;letter-spacing:-0.30px">0</div>
<div class="c" style="left:692px;top:157px;width:85px;height:16px;line-height:16px;letter-spacing:-0.30px"><span style="position:absolute;left:4.3px">1066Pro-xx</span></div>
<div class="a" style="left:0;top:173px;width:731px;height:1px;background:#2e3a45"></div>
<div class="c" style="left:28px;top:174px;width:45px;height:17px;line-height:17px;letter-spacing:-0.30px"><svg width="13.80" height="6.90" viewBox="0 0 20.00 10" style="display:block;margin:4.30px auto 0;position:relative;left:-0.60px"><g fill="none" stroke="#eef0f2" stroke-width="1.50" stroke-linecap="square"><path transform="translate(0.00 0)" d="M1 1.2H9M5 1.2V9.2M5 5H8.3M2.3 4.3V9.2M0.4 9.2H9.6"/><path transform="translate(10.00 0)" d="M5 0V1.8M2.4 0.5L3.2 1.6M7.6 0.5L6.8 1.6M1 3.6V2.2H9V3.6M3.2 3.4H6.8V5H3.2ZM2 9V6.2H8V8.8M5 5V10"/></g></svg></div>
<div class="c" style="left:74px;top:174px;width:124px;height:17px;line-height:17px;letter-spacing:-0.14px">stratum+tcp://btc.ss.poolin.com:443</div>
<div class="c" style="left:199px;top:174px;width:48px;height:17px;line-height:17px;letter-spacing:-0.30px">cctrix.001</div>
<div class="c" style="left:248px;top:174px;width:30px;height:17px;line-height:17px;letter-spacing:-0.30px">1</div>
<div class="c" style="left:279px;top:174px;width:54px;height:17px;line-height:17px;letter-spacing:-0.50px">10.100.232.135</div>
<div class="c" style="left:334px;top:174px;width:24px;height:17px;line-height:17px;letter-spacing:-0.30px">1</div>
<div class="c" style="left:359px;top:174px;width:30px;height:17px;line-height:17px;letter-spacing:-0.30px">1</div>
<div class="c" style="left:390px;top:174px;width:53px;height:17px;line-height:17px;letter-spacing:-0.30px">1m 44s</div>
<div class="c" style="left:444px;top:174px;width:23px;height:17px;line-height:17px;letter-spacing:-0.30px">0</div>
<div class="c" style="left:468px;top:174px;width:31px;height:17px;line-height:17px;letter-spacing:-0.30px">0</div>
<div class="c r" style="left:500px;top:174px;width:43px;height:17px;line-height:17px;letter-spacing:-0.30px">-30</div>
<div class="c" style="left:544px;top:174px;width:44px;height:17px;line-height:17px;letter-spacing:-0.30px">0</div>
<div class="c" style="left:589px;top:174px;width:42px;height:17px;line-height:17px;letter-spacing:-0.30px">1166Pro</div>
<div class="c" style="left:632px;top:174px;width:59px;height:17px;line-height:17px;letter-spacing:-0.30px">0</div>
<div class="c" style="left:692px;top:174px;width:85px;height:17px;line-height:17px;letter-spacing:-0.30px"></div>
<div class="a" style="left:0;top:191px;width:731px;height:1px;background:#2e3a45"></div>
<div class="c" style="left:28px;top:192px;width:45px;height:16px;line-height:16px;letter-spacing:-0.30px"><svg width="13.80" height="6.90" viewBox="0 0 20.00 10" style="display:block;margin:4.30px auto 0;position:relative;left:-0.60px"><g fill="none" stroke="#eef0f2" stroke-width="1.50" stroke-linecap="square"><path transform="translate(0.00 0)" d="M1 1.2H9M5 1.2V9.2M5 5H8.3M2.3 4.3V9.2M0.4 9.2H9.6"/><path transform="translate(10.00 0)" d="M5 0V1.8M2.4 0.5L3.2 1.6M7.6 0.5L6.8 1.6M1 3.6V2.2H9V3.6M3.2 3.4H6.8V5H3.2ZM2 9V6.2H8V8.8M5 5V10"/></g></svg></div>
<div class="c" style="left:74px;top:192px;width:124px;height:16px;line-height:16px;letter-spacing:-0.14px">stratum+tcp://btc.ss.poolin.com:443</div>
<div class="c" style="left:199px;top:192px;width:48px;height:16px;line-height:16px;letter-spacing:-0.30px">cctrix.001</div>
<div class="c" style="left:248px;top:192px;width:30px;height:16px;line-height:16px;letter-spacing:-0.30px">1</div>
<div class="c" style="left:279px;top:192px;width:54px;height:16px;line-height:16px;letter-spacing:-0.50px">10.100.232.110</div>
<div class="c" style="left:334px;top:192px;width:24px;height:16px;line-height:16px;letter-spacing:-0.30px">1</div>
<div class="c" style="left:359px;top:192px;width:30px;height:16px;line-height:16px;letter-spacing:-0.30px">1</div>
<div class="c" style="left:390px;top:192px;width:53px;height:16px;line-height:16px;letter-spacing:-0.30px">1m 22s</div>
<div class="c" style="left:444px;top:192px;width:23px;height:16px;line-height:16px;letter-spacing:-0.30px">0</div>
<div class="c" style="left:468px;top:192px;width:31px;height:16px;line-height:16px;letter-spacing:-0.30px">0</div>
<div class="c r" style="left:500px;top:192px;width:43px;height:16px;line-height:16px;letter-spacing:-0.30px">-30</div>
<div class="c" style="left:544px;top:192px;width:44px;height:16px;line-height:16px;letter-spacing:-0.30px">0</div>
<div class="c" style="left:589px;top:192px;width:42px;height:16px;line-height:16px;letter-spacing:-0.30px">1066Pro-xx</div>
<div class="c" style="left:632px;top:192px;width:59px;height:16px;line-height:16px;letter-spacing:-0.30px">0</div>
<div class="c" style="left:692px;top:192px;width:85px;height:16px;line-height:16px;letter-spacing:-0.30px"><span style="position:absolute;left:4.3px">1066Pro-xx</span></div>
<div class="a" style="left:0;top:208px;width:731px;height:1px;background:#2e3a45"></div>
<div class="a" style="left:27px;top:0;width:1px;height:209px;background:#2e3a45"></div>
<div class="a" style="left:73px;top:0;width:1px;height:209px;background:#2e3a45"></div>
<div class="a" style="left:198px;top:0;width:1px;height:209px;background:#2e3a45"></div>
<div class="a" style="left:247px;top:0;width:1px;height:209px;background:#2e3a45"></div>
<div class="a" style="left:278px;top:0;width:1px;height:209px;background:#2e3a45"></div>
<div class="a" style="left:333px;top:0;width:1px;height:209px;background:#2e3a45"></div>
<div class="a" style="left:358px;top:0;width:1px;height:209px;background:#2e3a45"></div>
<div class="a" style="left:389px;top:0;width:1px;height:209px;background:#2e3a45"></div>
<div class="a" style="left:443px;top:0;width:1px;height:209px;background:#2e3a45"></div>
<div class="a" style="left:467px;top:0;width:1px;height:209px;background:#2e3a45"></div>
<div class="a" style="left:499px;top:0;width:1px;height:209px;background:#2e3a45"></div>
<div class="a" style="left:543px;top:0;width:1px;height:209px;background:#2e3a45"></div>
<div class="a" style="left:588px;top:0;width:1px;height:209px;background:#2e3a45"></div>
<div class="a" style="left:631px;top:0;width:1px;height:209px;background:#2e3a45"></div>
<div class="a" style="left:691px;top:0;width:1px;height:209px;background:#2e3a45"></div>
</div>
<div class="cb" style="left:15px;top:190.3px"></div>
<div class="cb" style="left:15px;top:207.6px"></div>
<div class="cb" style="left:15px;top:225.0px"></div>
<div class="cb" style="left:15px;top:242.3px"></div>
<div class="cb" style="left:15px;top:259.7px"></div>
<div class="cb" style="left:15px;top:277.0px"></div>
<div class="cb" style="left:15px;top:294.3px"></div>
<div class="cb" style="left:15px;top:311.7px"></div>
<div class="cb" style="left:15px;top:329.0px"></div>
<div class="cb" style="left:15px;top:346.4px"></div>
<div class="cb" style="left:15px;top:363.7px"></div>
<div class="cb" style="left:15px;top:381.0px"></div>
<div class="a" style="left:24.6px;top:202.6px;width:15px;height:17px;border:1px solid #8c9298;border-radius:1px"></div>
<svg class="a" style="left:598px;top:388px" width="150" height="36" viewBox="598 388 150 36">
<g fill="none" stroke="#5e2072" stroke-width="2.2">
<path d="M622.33 391.55A14.8 14.8 0 0 1 615.43 420.28"/>
<path d="M612.10 419.27A14.8 14.8 0 0 1 618.52 390.91"/>
</g>
<path d="M621.6 389.8L619.2 389.8L611.8 407.2L617.6 406.0L613.0 421.4L623.0 403.6L617.4 404.6Z" fill="#5e2072"/>
<g fill="#5e2072" font-family="Liberation Sans, sans-serif" font-weight="bold">
<text x="638.7" y="403.9" font-size="12" textLength="72.9" lengthAdjust="spacingAndGlyphs">ZEUS MINING</text>
<text x="638.7" y="415.7" font-size="11.1" textLength="100.4" lengthAdjust="spacingAndGlyphs">CRYPTO MINING PRO</text>
</g>
</svg>
</body></html>
